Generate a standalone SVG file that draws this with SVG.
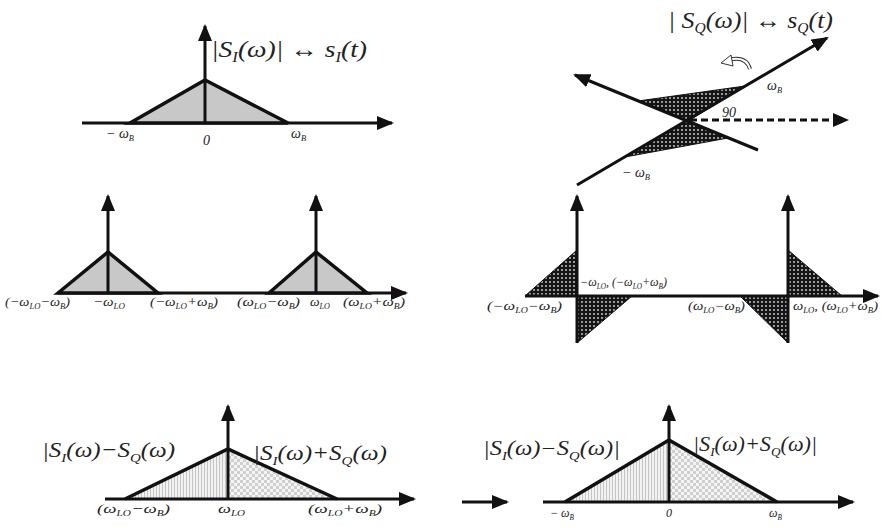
<svg xmlns="http://www.w3.org/2000/svg" width="882" height="528" viewBox="0 0 882 528">
<defs>
<marker id="ah" markerUnits="userSpaceOnUse" markerWidth="18" markerHeight="14" refX="15" refY="7" orient="auto">
<path d="M0,0 L17,7 L0,14 z" fill="#111"/>
</marker>
<pattern id="dots" width="4" height="4" patternUnits="userSpaceOnUse">
<rect width="4" height="4" fill="#151515"/>
<circle cx="2" cy="2" r="0.9" fill="#d8d8d8"/>
</pattern>
<pattern id="vl" width="3" height="3" patternUnits="userSpaceOnUse">
<rect width="3" height="3" fill="#f2f2f2"/>
<rect width="1" height="3" fill="#c4c4c4"/>
</pattern>
<pattern id="chk" width="6" height="6" patternUnits="userSpaceOnUse">
<rect width="6" height="6" fill="#f4f4f4"/>
<rect width="3" height="3" fill="#cfcfcf"/>
<rect x="3" y="3" width="3" height="3" fill="#cfcfcf"/>
</pattern>
</defs>
<style>
.ax{stroke:#111;stroke-width:3;fill:none}
.arr{marker-end:url(#ah)}
.tri{stroke:#111;stroke-width:3.5;fill:#c8c8c8;stroke-linejoin:miter}
.out{stroke:#111;stroke-width:3.5;fill:none;stroke-linejoin:miter}
.dot{fill:url(#dots);stroke:#111;stroke-width:1}
.m{font-family:"Liberation Serif","Times New Roman",serif;font-style:italic;fill:#222}
.t24{font-size:24px}
.t22{font-size:22px}
.t20{font-size:20px}
.t14{font-size:14px}
.t13{font-size:13px}
.t12{font-size:12px}
.s{font-size:0.6em}
</style>

<g id="panel-si">
<line class="ax arr" x1="82" y1="123" x2="392" y2="123"/>
<path class="tri" d="M130,123 L205,80 L288,123 Z"/>
<line class="ax arr" x1="205" y1="123" x2="205" y2="26"/>
<text class="m t24" x="211" y="57" textLength="156" lengthAdjust="spacingAndGlyphs">|S<tspan class="s" dy="5">I</tspan><tspan dy="-5">(ω)| ↔ s</tspan><tspan class="s" dy="5">I</tspan><tspan dy="-5">(t)</tspan></text>
<text class="m t14" x="106" y="138">− ω<tspan class="s" dy="3">B</tspan></text>
<text class="m t14" x="203" y="145" font-style="normal">0</text>
<text class="m t14" x="291" y="138">ω<tspan class="s" dy="3">B</tspan></text>
</g>

<g id="panel-sq">
<text class="m t24" x="668" y="28" textLength="165" lengthAdjust="spacingAndGlyphs">| S<tspan class="s" dy="5">Q</tspan><tspan dy="-5">(ω)| ↔ s</tspan><tspan class="s" dy="5">Q</tspan><tspan dy="-5">(t)</tspan></text>
<path class="dot" d="M688,121 L638,101 L745,86 Z"/>
<path class="dot" d="M688,120 L625,157 L728,138 Z"/>
<line class="ax arr" x1="577" y1="185" x2="827" y2="38"/>
<line class="ax arr" x1="758" y1="150" x2="575" y2="75"/>
<line x1="690" y1="120" x2="835" y2="120" stroke="#111" stroke-width="3" stroke-dasharray="7,4"/>
<path d="M833,113 L849,120 L833,127 Z" fill="#111"/>
<path d="M750,69 Q746,55 728,60" fill="none" stroke="#333" stroke-width="4"/>
<path d="M750,69 Q746,55 728,60" fill="none" stroke="#fff" stroke-width="2"/>
<path d="M731,55 L721,63 L733,66 Z" fill="#fff" stroke="#333" stroke-width="1"/>
<text class="m t14" x="722" y="117" font-style="normal">90</text>
<text class="m t14" x="767" y="90">ω<tspan class="s" dy="3">B</tspan></text>
<text class="m t14" x="622" y="177">− ω<tspan class="s" dy="3">B</tspan></text>
</g>

<g id="panel-mix-i">
<line class="ax arr" x1="58" y1="293" x2="406" y2="293"/>
<path class="tri" d="M58,293 L108,252 L158,293 Z"/>
<path class="tri" d="M269,293 L316,252 L367,293 Z"/>
<line class="ax arr" x1="108" y1="293" x2="108" y2="196"/>
<line class="ax arr" x1="316" y1="293" x2="316" y2="196"/>
<text class="m t13" x="5" y="306" textLength="65" lengthAdjust="spacingAndGlyphs">(−ω<tspan class="s" dy="3">LO</tspan><tspan dy="-3">−ω</tspan><tspan class="s" dy="3">B</tspan><tspan dy="-3">)</tspan></text>
<text class="m t13" x="93" y="306" textLength="32" lengthAdjust="spacingAndGlyphs">−ω<tspan class="s" dy="3">LO</tspan></text>
<text class="m t13" x="150" y="306" textLength="68" lengthAdjust="spacingAndGlyphs">(−ω<tspan class="s" dy="3">LO</tspan><tspan dy="-3">+ω</tspan><tspan class="s" dy="3">B</tspan><tspan dy="-3">)</tspan></text>
<text class="m t13" x="237" y="306" textLength="63" lengthAdjust="spacingAndGlyphs">(ω<tspan class="s" dy="3">LO</tspan><tspan dy="-3">−ω</tspan><tspan class="s" dy="3">B</tspan><tspan dy="-3">)</tspan></text>
<text class="m t13" x="310" y="306" textLength="20" lengthAdjust="spacingAndGlyphs">ω<tspan class="s" dy="3">LO</tspan></text>
<text class="m t13" x="343" y="306" textLength="62" lengthAdjust="spacingAndGlyphs">(ω<tspan class="s" dy="3">LO</tspan><tspan dy="-3">+ω</tspan><tspan class="s" dy="3">B</tspan><tspan dy="-3">)</tspan></text>
</g>

<g id="panel-mix-q">
<path class="dot" d="M525,296 L577,250 L577,296 Z"/>
<path class="dot" d="M577,296 L632,296 L577,343 Z"/>
<path class="dot" d="M740,296 L788,296 L788,343 Z"/>
<path class="dot" d="M788,250 L842,296 L788,296 Z"/>
<line class="ax arr" x1="525" y1="296" x2="878" y2="296"/>
<line class="ax arr" x1="577" y1="343" x2="577" y2="196"/>
<line class="ax arr" x1="788" y1="343" x2="788" y2="196"/>
<text class="m t12" x="580" y="286" textLength="87" lengthAdjust="spacingAndGlyphs">−ω<tspan class="s" dy="3">LO</tspan><tspan dy="-3">, (−ω</tspan><tspan class="s" dy="3">LO</tspan><tspan dy="-3">+ω</tspan><tspan class="s" dy="3">B</tspan><tspan dy="-3">)</tspan></text>
<text class="m t12" x="487" y="310" textLength="75" lengthAdjust="spacingAndGlyphs">(−ω<tspan class="s" dy="3">LO</tspan><tspan dy="-3">−ω</tspan><tspan class="s" dy="3">B</tspan><tspan dy="-3">)</tspan></text>
<text class="m t12" x="688" y="310" textLength="57" lengthAdjust="spacingAndGlyphs">(ω<tspan class="s" dy="3">LO</tspan><tspan dy="-3">−ω</tspan><tspan class="s" dy="3">B</tspan><tspan dy="-3">)</tspan></text>
<text class="m t12" x="793" y="310" textLength="85" lengthAdjust="spacingAndGlyphs">ω<tspan class="s" dy="3">LO</tspan><tspan dy="-3">, (ω</tspan><tspan class="s" dy="3">LO</tspan><tspan dy="-3">+ω</tspan><tspan class="s" dy="3">B</tspan><tspan dy="-3">)</tspan></text>
</g>

<g id="panel-sum-rf">
<path d="M125,499 L228,449 L228,499 Z" fill="url(#vl)"/>
<path d="M228,449 L337,499 L228,499 Z" fill="url(#chk)"/>
<line class="ax arr" x1="105" y1="499" x2="414" y2="499"/>
<path class="out" d="M125,499 L228,449 L337,499"/>
<line class="ax arr" x1="228" y1="499" x2="228" y2="406"/>
<text class="m t22" x="42" y="457" textLength="133" lengthAdjust="spacingAndGlyphs">|S<tspan class="s" dy="5">I</tspan><tspan dy="-5">(ω)−S</tspan><tspan class="s" dy="5">Q</tspan><tspan dy="-5">(ω)</tspan></text>
<text class="m t22" x="253" y="460" textLength="134" lengthAdjust="spacingAndGlyphs">|S<tspan class="s" dy="5">I</tspan><tspan dy="-5">(ω)+S</tspan><tspan class="s" dy="5">Q</tspan><tspan dy="-5">(ω)</tspan></text>
<text class="m t13" x="97" y="513" textLength="73" lengthAdjust="spacingAndGlyphs">(ω<tspan class="s" dy="3">LO</tspan><tspan dy="-3">−ω</tspan><tspan class="s" dy="3">B</tspan><tspan dy="-3">)</tspan></text>
<text class="m t13" x="218" y="513" textLength="27" lengthAdjust="spacingAndGlyphs">ω<tspan class="s" dy="3">LO</tspan></text>
<text class="m t13" x="308" y="513" textLength="74" lengthAdjust="spacingAndGlyphs">(ω<tspan class="s" dy="3">LO</tspan><tspan dy="-3">+ω</tspan><tspan class="s" dy="3">B</tspan><tspan dy="-3">)</tspan></text>
</g>

<g id="connectors">
<line class="ax arr" x1="462" y1="502" x2="507" y2="502"/>
</g>

<g id="panel-sum-bb">
<path d="M565,502 L669,440 L669,502 Z" fill="url(#vl)"/>
<path d="M669,440 L777,502 L669,502 Z" fill="url(#chk)"/>
<line class="ax arr" x1="543" y1="502" x2="853" y2="502"/>
<path class="out" d="M565,502 L669,440 L777,502"/>
<line class="ax arr" x1="669" y1="502" x2="669" y2="406"/>
<text class="m t20" x="483" y="455" textLength="137" lengthAdjust="spacingAndGlyphs">|S<tspan class="s" dy="5">I</tspan><tspan dy="-5">(ω)−S</tspan><tspan class="s" dy="5">Q</tspan><tspan dy="-5">(ω)|</tspan></text>
<text class="m t20" x="693" y="451" textLength="124" lengthAdjust="spacingAndGlyphs">|S<tspan class="s" dy="5">I</tspan><tspan dy="-5">(ω)+S</tspan><tspan class="s" dy="5">Q</tspan><tspan dy="-5">(ω)|</tspan></text>
<text class="m t12" x="550" y="517">− ω<tspan class="s" dy="3">B</tspan></text>
<text class="m t12" x="666" y="517" font-style="normal">0</text>
<text class="m t12" x="769" y="517">ω<tspan class="s" dy="3">B</tspan></text>
</g>
</svg>
